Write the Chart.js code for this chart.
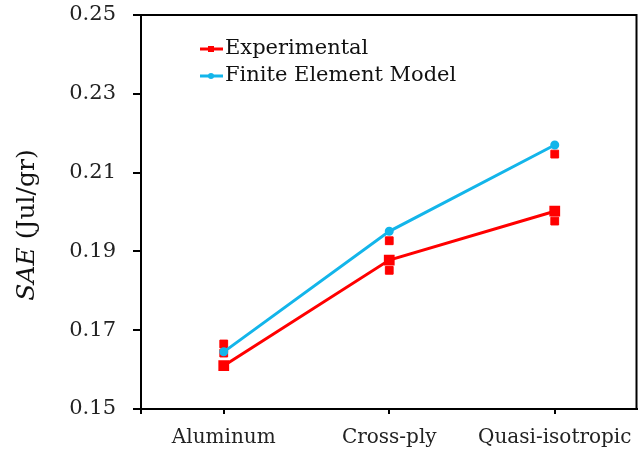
<!DOCTYPE html>
<html>
<head>
<meta charset="utf-8">
<script src="https://cdn.jsdelivr.net/npm/chart.js@4.4.1/dist/chart.umd.min.js"></script>
<style>
  html, body { margin: 0; padding: 0; background: #fff; overflow: hidden; }
  #wrap { width: 646px; height: 455px; position: relative; }
</style>
</head>
<body>
<div id="wrap"><canvas id="saeChart"></canvas></div>
<script>
// Chart data
const categories = ['Aluminum', 'Cross-ply', 'Quasi-isotropic'];
const experimental = [0.161, 0.1878, 0.2002];
const feModel = [0.1645, 0.1951, 0.217];
// individual specimen results (category index, value)
const specimenCats = [0, 0, 0, 1, 1, 1, 2, 2, 2];
const specimenVals = [0.1665, 0.1642, 0.161, 0.1927, 0.1879, 0.1852, 0.2147, 0.2002, 0.1977];
const yTicks = [0.15, 0.17, 0.19, 0.21, 0.23, 0.25];

const RED = '#ff0000';
const BLUE = '#13b5ea';
const FONT = 'DejaVu Serif';

// Frame round the plot area + small extension of the y axis
const framePlugin = {
    id: 'frame',
    afterDraw(chart) {
        const { ctx, chartArea: a } = chart;
        ctx.save();
        ctx.strokeStyle = '#000';
        ctx.lineWidth = 2;
        ctx.strokeRect(a.left, a.top, a.right - a.left - 1, a.bottom - a.top);
        ctx.beginPath();
        ctx.moveTo(a.left, a.bottom);
        ctx.lineTo(a.left, a.bottom + 5);
        ctx.stroke();
        ctx.restore();
    }
};

// Y title with italic SAE
const yTitlePlugin = {
    id: 'yTitle',
    afterDraw(chart) {
        const { ctx } = chart;
        ctx.save();
        ctx.translate(27, 225);
        ctx.rotate(-Math.PI / 2);
        ctx.textBaseline = 'middle';
        ctx.fillStyle = '#111';
        const italic = 'italic 25px "' + FONT + '"';
        const normal = '25px "' + FONT + '"';
        ctx.font = italic;
        const w1 = ctx.measureText('SAE').width;
        ctx.font = normal;
        const w2 = ctx.measureText(' (Jul/gr)').width;
        let x = -(w1 + w2) / 2;
        ctx.font = italic;
        ctx.fillText('SAE', x, 0);
        ctx.font = normal;
        ctx.fillText(' (Jul/gr)', x + w1, 0);
        ctx.restore();
    }
};

// Legend: line with marker, inside the plot
const legendPlugin = {
    id: 'lineLegend',
    afterDraw(chart) {
        const { ctx } = chart;
        const items = [
            { label: 'Experimental', color: RED, marker: 'rect', y: 49 },
            { label: 'Finite Element Model', color: BLUE, marker: 'circle', y: 76 }
        ];
        ctx.save();
        items.forEach(item => {
            ctx.strokeStyle = item.color;
            ctx.fillStyle = item.color;
            ctx.lineWidth = 3;
            ctx.beginPath();
            ctx.moveTo(200, item.y);
            ctx.lineTo(223, item.y);
            ctx.stroke();
            if (item.marker === 'rect') {
                ctx.fillRect(208, item.y - 3, 6, 6);
            } else {
                ctx.beginPath();
                ctx.arc(211, item.y, 3, 0, Math.PI * 2);
                ctx.fill();
            }
            ctx.fillStyle = '#111';
            ctx.font = '21px "' + FONT + '"';
            ctx.textBaseline = 'middle';
            ctx.fillText(item.label, 225, item.y);
        });
        ctx.restore();
    }
};

const ctx = document.getElementById('saeChart').getContext('2d');
new Chart(ctx, {
    type: 'line',
    data: {
        labels: categories,
        datasets: [{
            label: 'Experimental',
            data: experimental,
            borderColor: RED,
            backgroundColor: RED,
            borderWidth: 3,
            pointStyle: 'rect',
            pointRadius: 5.5,
            pointHoverRadius: 5.5,
            tension: 0
        }, {
            label: 'Finite Element Model',
            data: feModel,
            borderColor: BLUE,
            backgroundColor: BLUE,
            borderWidth: 3,
            pointStyle: 'circle',
            pointRadius: 3,
            pointHoverRadius: 3,
            tension: 0
        }, {
            label: 'Specimens',
            data: specimenVals.map((v, i) => ({ x: categories[specimenCats[i]], y: v })),
            showLine: false,
            borderColor: RED,
            backgroundColor: RED,
            pointStyle: 'rect',
            pointRadius: 5.5,
            pointHoverRadius: 5.5
        }]
    },
    options: {
        responsive: true,
        maintainAspectRatio: false,
        animation: false,
        layout: { padding: { top: 15, right: 1, left: 0, bottom: 0 } },
        plugins: {
            legend: { display: false },
            tooltip: { enabled: false }
        },
        scales: {
            x: {
                offset: true,
                grid: {
                    offset: false,
                    drawOnChartArea: false,
                    drawTicks: true,
                    tickLength: 5,
                    tickColor: '#000',
                    lineWidth: 2
                },
                border: { color: '#000', width: 2 },
                ticks: {
                    color: '#222',
                    padding: 12,
                    maxRotation: 0,
                    autoSkip: false,
                    font: { family: FONT, size: 20 }
                },
                afterFit(scale) {
                    scale.height = 46;
                    scale.paddingLeft = 0;
                    scale.paddingRight = 0;
                }
            },
            y: {
                min: 0.15,
                max: 0.25,
                afterBuildTicks(scale) {
                    scale.ticks = yTicks.map(v => ({ value: v }));
                },
                grid: {
                    drawOnChartArea: false,
                    drawTicks: true,
                    tickLength: 8,
                    tickColor: '#000',
                    lineWidth: 2
                },
                border: { color: '#000', width: 2 },
                ticks: {
                    color: '#222',
                    padding: 17,
                    font: { family: FONT, size: 21 },
                    callback: v => v.toFixed(2)
                },
                afterFit(scale) {
                    scale.width = 141;
                    scale.paddingTop = 0;
                    scale.paddingBottom = 0;
                }
            }
        }
    },
    plugins: [framePlugin, yTitlePlugin, legendPlugin]
});
</script>
</body>
</html>
